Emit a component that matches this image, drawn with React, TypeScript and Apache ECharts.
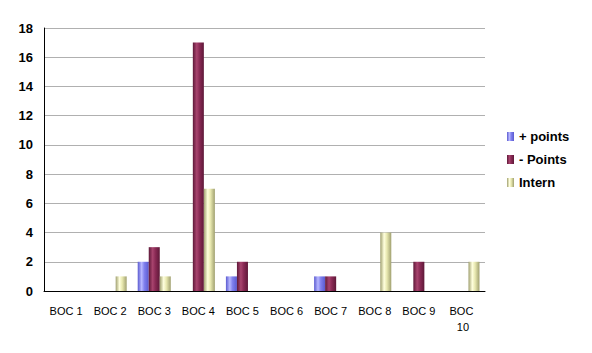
import React, { useEffect, useRef } from "react";
import * as echarts from "echarts";

const categories = ["BOC 1", "BOC 2", "BOC 3", "BOC 4", "BOC 5", "BOC 6", "BOC 7", "BOC 8", "BOC 9", "BOC 10"];
const plusPoints = [0, 0, 2, 0, 1, 0, 1, 0, 0, 0];
const minusPoints = [0, 0, 3, 17, 2, 0, 1, 0, 2, 0];
const intern = [0, 1, 1, 7, 0, 0, 0, 4, 0, 2];

const grad = (edge: string, mid: string, light: string) =>
  new echarts.graphic.LinearGradient(0, 0, 1, 0, [
    { offset: 0, color: edge },
    { offset: 0.35, color: light },
    { offset: 0.6, color: mid },
    { offset: 1, color: edge },
  ]);

export default function App() {
  const ref = useRef<HTMLDivElement>(null);
  useEffect(() => {
    if (!ref.current) return;
    const chart = echarts.init(ref.current, undefined, { renderer: "svg" });
    chart.setOption({
      animation: false,
      backgroundColor: "#ffffff",
      grid: { left: 44, right: 107, top: 28, bottom: 62, containLabel: false },
      legend: {
        orient: "vertical",
        left: 502,
        top: 125,
        icon: "rect",
        itemWidth: 7,
        itemHeight: 9,
        itemGap: 10,
        textStyle: { fontFamily: "Liberation Sans, Arial", fontWeight: "bold", fontSize: 13, color: "#000" },
        data: ["+ points", "- Points", "Intern"],
      },
      xAxis: {
        type: "category",
        data: categories,
        axisLine: { lineStyle: { color: "#000", width: 1 } },
        axisTick: { show: false },
        axisLabel: {
          fontFamily: "Liberation Sans, Arial",
          fontSize: 11,
          color: "#000",
          margin: 12,
          width: 36,
          overflow: "break",
          lineHeight: 16,
          interval: 0,
        },
      },
      yAxis: {
        type: "value",
        min: 0,
        max: 18,
        interval: 2,
        axisLine: { show: true, lineStyle: { color: "#000", width: 1 } },
        axisTick: { show: false },
        splitLine: { lineStyle: { color: "#b0b0b0", width: 1 } },
        axisLabel: {
          fontFamily: "Liberation Sans, Arial",
          fontSize: 13,
          fontWeight: "bold",
          color: "#000",
          margin: 11,
        },
      },
      series: [
        {
          name: "+ points",
          type: "bar",
          data: plusPoints,
          barGap: "0%",
          barCategoryGap: "25%",
          itemStyle: { color: grad("#5a5ad0", "#8080ee", "#b8b8ff") },
        },
        {
          name: "- Points",
          type: "bar",
          data: minusPoints,
          barGap: "0%",
          barCategoryGap: "25%",
          itemStyle: { color: grad("#5e1838", "#8a2a55", "#a8446e") },
        },
        {
          name: "Intern",
          type: "bar",
          data: intern,
          barGap: "0%",
          barCategoryGap: "25%",
          itemStyle: { color: grad("#a0a070", "#e8e8b0", "#ffffdd") },
        },
      ],
    });
    return () => chart.dispose();
  }, []);
  return <div ref={ref} style={{ width: 592, height: 353, position: "absolute", left: 0, top: 0 }} />;
}
